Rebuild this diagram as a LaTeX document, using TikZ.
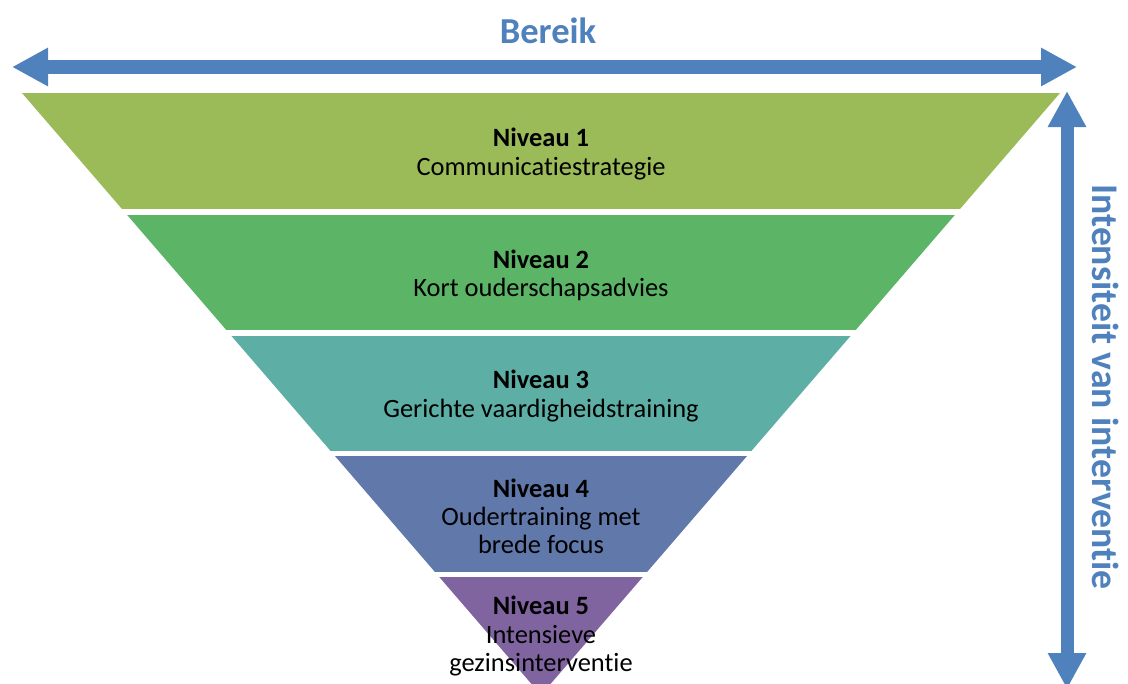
\documentclass[tikz,border=0pt]{standalone}
\usepackage{fontspec}
\setmainfont[Ligatures=NoCommon]{Carlito}
\usetikzlibrary{arrows.meta,positioning}

\definecolor{niv1}{RGB}{155,187,89}
\definecolor{niv2}{RGB}{92,180,102}
\definecolor{niv3}{RGB}{93,175,165}
\definecolor{niv4}{RGB}{96,120,170}
\definecolor{niv5}{RGB}{128,100,160}
\definecolor{arrowblue}{RGB}{79,129,189}

\begin{document}
\begin{tikzpicture}[x=0.025cm,y=-0.025cm,
	lbl/.style={align=center,inner sep=0pt,font=\fontsize{18.8}{20}\selectfont},
	reach/.style={draw=arrowblue,line width=0.325cm,{Triangle[length=0.9cm,width=0.9cm]}-{Triangle[length=0.9cm,width=0.9cm]}},
	title/.style={text=arrowblue,inner sep=0pt,font=\fontsize{26}{30}\selectfont\bfseries}]
	\useasboundingbox (0,0) rectangle (1128,683);

	% funnel: clip the triangle, then fill the bands
	\begin{scope}
		\clip (22,93) -- (1060,93) -- (541,695) -- cycle;
		\foreach \top/\bot/\col in {93/209/niv1,215/330/niv2,336/451/niv3,456/572/niv4,577/700/niv5}
			\fill[\col] (0,\top) rectangle (1128,\bot);
	\end{scope}

	\node[lbl]	(n1)	at (541,154)	{\textbf{Niveau 1}\\Communicatiestrategie};
	\node[lbl]	(n2)	at (541,275)	{\textbf{Niveau 2}\\Kort ouderschapsadvies};
	\node[lbl]	(n3)	at (541,396)	{\textbf{Niveau 3}\\Gerichte vaardigheidstraining};
	\node[lbl]	(n4)	at (541,516)	{\textbf{Niveau 4}\\Oudertraining met\\brede focus};
	\node[lbl]	(n5)	at (541,636)	{\textbf{Niveau 5}\\Intensieve\\gezinsinterventie};

	% reach and intensity
	\node[title]			(bereik)		at (548,31)		{Bereik};
	\node[title,rotate=-90,font=\fontsize{26.8}{30}\selectfont\bfseries]
							(intensiteit)	at (1106,387)	{Intensiteit van interventie};
	\coordinate (reachL) at (12,67);
	\coordinate (reachR) at (1077,67);
	\coordinate (intTop) at (1067,91);
	\coordinate (intBot) at (1067,689);
	\draw[reach] (reachL) -- (reachR);
	\draw[reach] (intTop) -- (intBot);
\end{tikzpicture}
\end{document}
